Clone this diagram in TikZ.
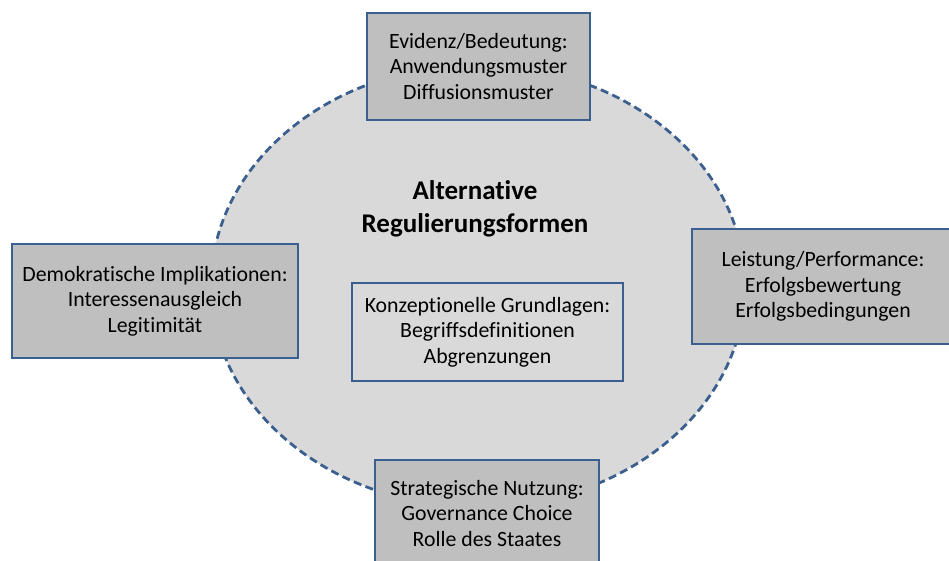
\documentclass[tikz,border=0pt]{standalone}
\usepackage{fontspec}
\setmainfont{Carlito}[Ligatures=NoCommon]
\usepackage{tikz}
\usetikzlibrary{shapes.geometric}
\definecolor{rimblue}{HTML}{3B5F8E}
\definecolor{ringgray}{HTML}{D9D9D9}
\definecolor{boxgray}{HTML}{BFBFBF}

\begin{document}
\begin{tikzpicture}[x=1pt,y=-1pt,
    ringshape/.style={ellipse,draw=rimblue,fill=ringgray,line width=2.8pt,
        dash pattern=on 8pt off 4.5pt,inner sep=0pt},
    topicbox/.style={rectangle,draw=rimblue,fill=boxgray,line width=2.8pt,
        align=center,inner sep=0pt,font=\fontsize{21.8}{25.5}\selectfont},
    corebox/.style={topicbox,fill=ringgray},
    titletext/.style={align=center,font=\fontsize{27}{33}\selectfont\bfseries}]

                \useasboundingbox (0,0) rectangle (949,560);
                \clip (0,0) rectangle (949,560);

                \node[ringshape,minimum width=534pt,minimum height=442pt] (ring) at (478,286){};
                \node[titletext] (title) at (475,209){Alternative\\Regulierungsformen};

                \node[topicbox,minimum width=223pt,minimum height=107pt] (evid) at (478.5,66.5){Evidenz/Bedeutung:\\Anwendungsmuster\\Diffusionsmuster};
                \node[topicbox,minimum width=286pt,minimum height=114pt] (demo) at (155,301){Demokratische Implikationen:\\Interessenausgleich\\Legitimität};
                \node[corebox,minimum width=271pt,minimum height=98pt] (konz) at (487.5,332){Konzeptionelle Grundlagen:\\Begriffsdefinitionen\\Abgrenzungen};
                \node[topicbox,minimum width=262pt,minimum height=115pt] (leist) at (823,286.5){Leistung/Performance:\\Erfolgsbewertung\\Erfolgsbedingungen};
                \node[topicbox,minimum width=224pt,minimum height=107pt] (strat) at (487,513.5){Strategische Nutzung:\\Governance Choice\\Rolle des Staates};

                \end{tikzpicture}
\end{document}
